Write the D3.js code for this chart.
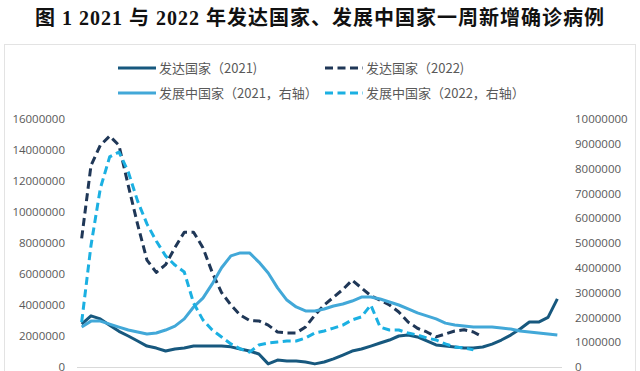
<!DOCTYPE html>
<html>
<head>
<meta charset="utf-8">
<script src="https://cdn.jsdelivr.net/npm/d3@7"></script>
<style>
  body { margin: 0; background: #fff; }
  svg { display: block; font-family: "Noto Sans CJK SC", "Noto Sans", sans-serif; }
  .title { font-size: 20px; font-weight: 600; fill: #111; font-family: "Liberation Serif", "Noto Sans CJK SC", serif; letter-spacing: 1px; }
  .tick text { font-size: 11.5px; fill: #595959; font-family: "Open Sans", "Noto Sans", sans-serif; }
  .legend text { font-size: 13px; fill: #595959; }
</style>
</head>
<body>
<div class="chart"></div>
<script>
// weekly categories (52 weeks)
var weeks = d3.range(1, 53).map(function(w) { return "W" + w; });

// developed countries, left axis
var dev2021 = [2.77, 3.3, 3.1, 2.7, 2.3, 2.0, 1.68, 1.35, 1.22, 1.03, 1.16, 1.22, 1.35, 1.35, 1.35, 1.35,
  1.3, 1.16, 1.03, 0.84, 0.2, 0.45, 0.39, 0.39, 0.32, 0.2, 0.32, 0.52, 0.77, 1.03, 1.16, 1.35,
  1.55, 1.74, 2.0, 2.06, 1.94, 1.68, 1.42, 1.35, 1.29, 1.22, 1.22, 1.29, 1.48, 1.74, 2.06, 2.45,
  2.9, 2.9, 3.2, 4.4];
var dev2022 = [8.3, 13.0, 14.3, 14.9, 14.3, 11.7, 9.2, 6.9, 6.1, 6.6, 7.7, 8.7, 8.7, 7.7, 6.1, 4.8,
  4.0, 3.35, 3.0, 2.97, 2.7, 2.26, 2.2, 2.2, 2.58, 3.35, 4.0, 4.5, 5.0, 5.6, 5.1, 4.6,
  4.3, 4.0, 3.55, 2.9, 2.5, 2.26, 1.94, 2.13, 2.32, 2.4, 2.26, 1.94];

// developing countries, right axis
var dvg2021 = [1.61, 1.85, 1.85, 1.73, 1.61, 1.49, 1.41, 1.33, 1.37, 1.49, 1.65, 1.94, 2.42, 2.78, 3.35, 4.0,
  4.48, 4.6, 4.6, 4.23, 3.79, 3.19, 2.7, 2.42, 2.26, 2.26, 2.34, 2.46, 2.54, 2.66, 2.82, 2.82,
  2.74, 2.62, 2.5, 2.34, 2.18, 2.06, 1.94, 1.77, 1.69, 1.65, 1.61, 1.61, 1.61, 1.57, 1.53, 1.45,
  1.41, 1.37, 1.33, 1.29];
var dvg2022 = [1.81, 4.9, 7.2, 8.47, 8.67, 7.86, 6.69, 5.77, 5.08, 4.48, 4.11, 3.83, 2.58, 1.9, 1.49, 1.21,
  0.93, 0.73, 0.6, 0.89, 0.97, 1.01, 1.05, 1.05, 1.17, 1.37, 1.45, 1.57, 1.69, 1.9, 2.02, 2.5,
  1.61, 1.49, 1.49, 1.37, 1.29, 1.17, 1.09, 0.93, 0.81, 0.77, 0.69];

var leftTicks = d3.range(0, 16000001, 2000000);
var rightTicks = d3.range(0, 10000001, 1000000);

var series = [
  {name: "发达国家（2021)", values: dev2021, axis: "left", color: "#17587e", dash: null},
  {name: "发达国家（2022)", values: dev2022, axis: "left", color: "#1f3757", dash: "8,4.5"},
  {name: "发展中国家（2021，右轴）", values: dvg2021, axis: "right", color: "#42a8d8", dash: null},
  {name: "发展中国家（2022，右轴）", values: dvg2022, axis: "right", color: "#1bb0e2", dash: "8,4.5"}
];

var width = 640, height = 371;

var svg = d3.select(".chart")
  .append("svg")
  .attr("width", width)
  .attr("height", height);

// title
svg.append("text")
  .attr("class", "title")
  .attr("x", width / 2)
  .attr("y", 25)
  .attr("text-anchor", "middle")
  .text("图 1 2021 与 2022 年发达国家、发展中国家一周新增确诊病例");

// chart area border
svg.append("rect")
  .attr("x", 4.5).attr("y", 44.5)
  .attr("width", 631).attr("height", 340)
  .attr("fill", "none")
  .attr("stroke", "#e3e3e3");

// scales
var x = d3.scaleBand().domain(weeks).range([77, 562]);
var yL = d3.scaleLinear().domain([0, 16000000]).range([367, 119]);
var yR = d3.scaleLinear().domain([0, 10000000]).range([367, 119]);

// axes
svg.append("g")
  .attr("transform", "translate(65,0)")
  .call(d3.axisLeft(yL).tickValues(leftTicks).tickSize(0).tickPadding(0).tickFormat(d3.format("d")))
  .call(function(g) { g.select(".domain").remove(); });

svg.append("g")
  .attr("transform", "translate(575,0)")
  .call(d3.axisRight(yR).tickValues(rightTicks).tickSize(0).tickPadding(0).tickFormat(d3.format("d")))
  .call(function(g) { g.select(".domain").remove(); });

svg.append("line")
  .attr("x1", 77).attr("x2", 562)
  .attr("y1", yL(0) + 0.5).attr("y2", yL(0) + 0.5)
  .attr("stroke", "#d9d9d9");

// lines
series.forEach(function(s) {
  var y = s.axis === "left" ? yL : yR;
  var line = d3.line()
    .x(function(d, i) { return x(weeks[i]) + x.bandwidth() / 2; })
    .y(function(d) { return y(d * 1e6); });
  svg.append("path")
    .datum(s.values)
    .attr("fill", "none")
    .attr("stroke", s.color)
    .attr("stroke-width", 3)
    .attr("stroke-linejoin", "round")
    .attr("stroke-dasharray", s.dash)
    .attr("d", line);
});

// legend
var legendPos = [[118, 68], [325, 68], [118, 93], [325, 93]];
var legend = svg.append("g").attr("class", "legend");
series.forEach(function(s, i) {
  var p = legendPos[i];
  legend.append("line")
    .attr("x1", p[0]).attr("x2", p[0] + 38)
    .attr("y1", p[1]).attr("y2", p[1])
    .attr("stroke", s.color)
    .attr("stroke-width", 3)
    .attr("stroke-dasharray", s.dash);
  legend.append("text")
    .attr("x", p[0] + 41)
    .attr("y", p[1])
    .attr("dy", "0.35em")
    .text(s.name);
});
</script>
</body>
</html>
